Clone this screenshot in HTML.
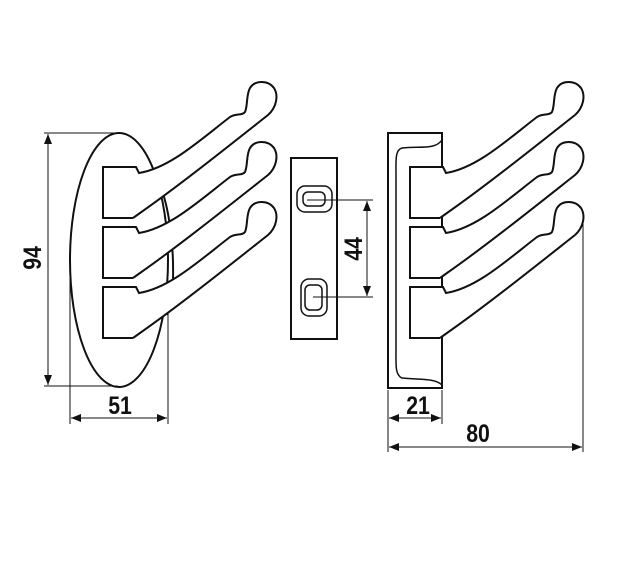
<!DOCTYPE html>
<html><head><style>body{margin:0;background:#fff}svg{display:block}text{font-family:"Liberation Sans",sans-serif;font-weight:bold;font-size:25px;fill:#111}</style></head>
<body>
<svg width="623" height="580" viewBox="0 0 623 580" xmlns="http://www.w3.org/2000/svg">
<defs>
<marker id="a" viewBox="0 0 10 8" refX="10" refY="4" markerWidth="10" markerHeight="8" markerUnits="userSpaceOnUse" orient="auto-start-reverse"><path d="M0,0L10,4L0,8Z" fill="#111"/></marker>
<g id="hook"><path d="M133,167 L136,167 L139,173 C170,168 200,140 230,117 C236,113 242,116 245,112 C248,105 246,95 250,88 C255,80 268,80 274,88 C279,96 276,108 268,115 C230,145 180,185 140,213 L133,218" fill="#fff" stroke="#111" stroke-width="2"/></g>
<g id="br"><path d="M133,167 L103,167 L103,218 L133,218" fill="none" stroke="#111" stroke-width="2"/></g>
</defs>
<g stroke="#111" fill="none">
<ellipse cx="119" cy="260" rx="49" ry="127" fill="#fff" stroke-width="2"/>
<path d="M160,185 C168,205 174,240 173,280 C172,295 170,305 167,315" stroke-width="2"/>
<g stroke-width="1">
<line x1="44" y1="133" x2="118" y2="133"/><line x1="44" y1="386" x2="118" y2="386"/>
<line x1="48" y1="134" x2="48" y2="385" marker-start="url(#a)" marker-end="url(#a)"/>
<line x1="70" y1="262" x2="70" y2="424"/><line x1="168" y1="312" x2="168" y2="424"/>
<line x1="71" y1="418" x2="167" y2="418" marker-start="url(#a)" marker-end="url(#a)"/>
</g>
</g>
<use href="#br"/><use href="#br" y="60"/><use href="#br" y="120"/>
<use href="#hook" y="120"/><use href="#hook" y="60"/><use href="#hook"/>
<g stroke="#111" fill="none">
<rect x="291" y="158" width="46" height="181" stroke-width="2"/>
<rect x="297" y="186" width="35" height="26" rx="8" stroke-width="1.5"/>
<rect x="303" y="192" width="22" height="14" rx="5" stroke-width="1.5"/>
<rect x="301" y="279" width="26" height="37" rx="8" stroke-width="1.5"/>
<rect x="305" y="285" width="17" height="25" rx="5" stroke-width="1.5"/>
<g stroke-width="1">
<line x1="307" y1="200" x2="373" y2="200"/><line x1="313" y1="297" x2="373" y2="297"/>
<line x1="367" y1="201" x2="367" y2="296" marker-start="url(#a)" marker-end="url(#a)"/>
</g>
<rect x="388" y="133" width="54" height="255" fill="#fff" stroke-width="2"/>
<path d="M442,140 C435,150 420,146 402,148 C395,150 396,160 396,175 L396,350 C396,365 395,375 402,378 C420,380 435,378 442,385" stroke-width="1.5"/>
<g stroke-width="1">
<line x1="388" y1="390" x2="388" y2="452"/><line x1="442" y1="390" x2="442" y2="424"/><line x1="583" y1="212" x2="583" y2="452"/>
<line x1="389" y1="418" x2="441" y2="418" marker-start="url(#a)" marker-end="url(#a)"/>
<line x1="389" y1="447" x2="582" y2="447" marker-start="url(#a)" marker-end="url(#a)"/>
</g>
</g>
<g transform="translate(307,0)"><use href="#br"/><use href="#br" y="60"/><use href="#br" y="120"/>
<use href="#hook" y="120"/><use href="#hook" y="60"/><use href="#hook"/></g>
<text transform="translate(120,414) scale(0.85,1)" text-anchor="middle">51</text>
<text transform="translate(418,414) scale(0.85,1)" text-anchor="middle">21</text>
<text transform="translate(478,442) scale(0.85,1)" text-anchor="middle">80</text>
<text transform="translate(41,258) rotate(-90) scale(0.85,1)" text-anchor="middle">94</text>
<text transform="translate(362,249) rotate(-90) scale(0.85,1)" text-anchor="middle">44</text>
</svg>
</body></html>
